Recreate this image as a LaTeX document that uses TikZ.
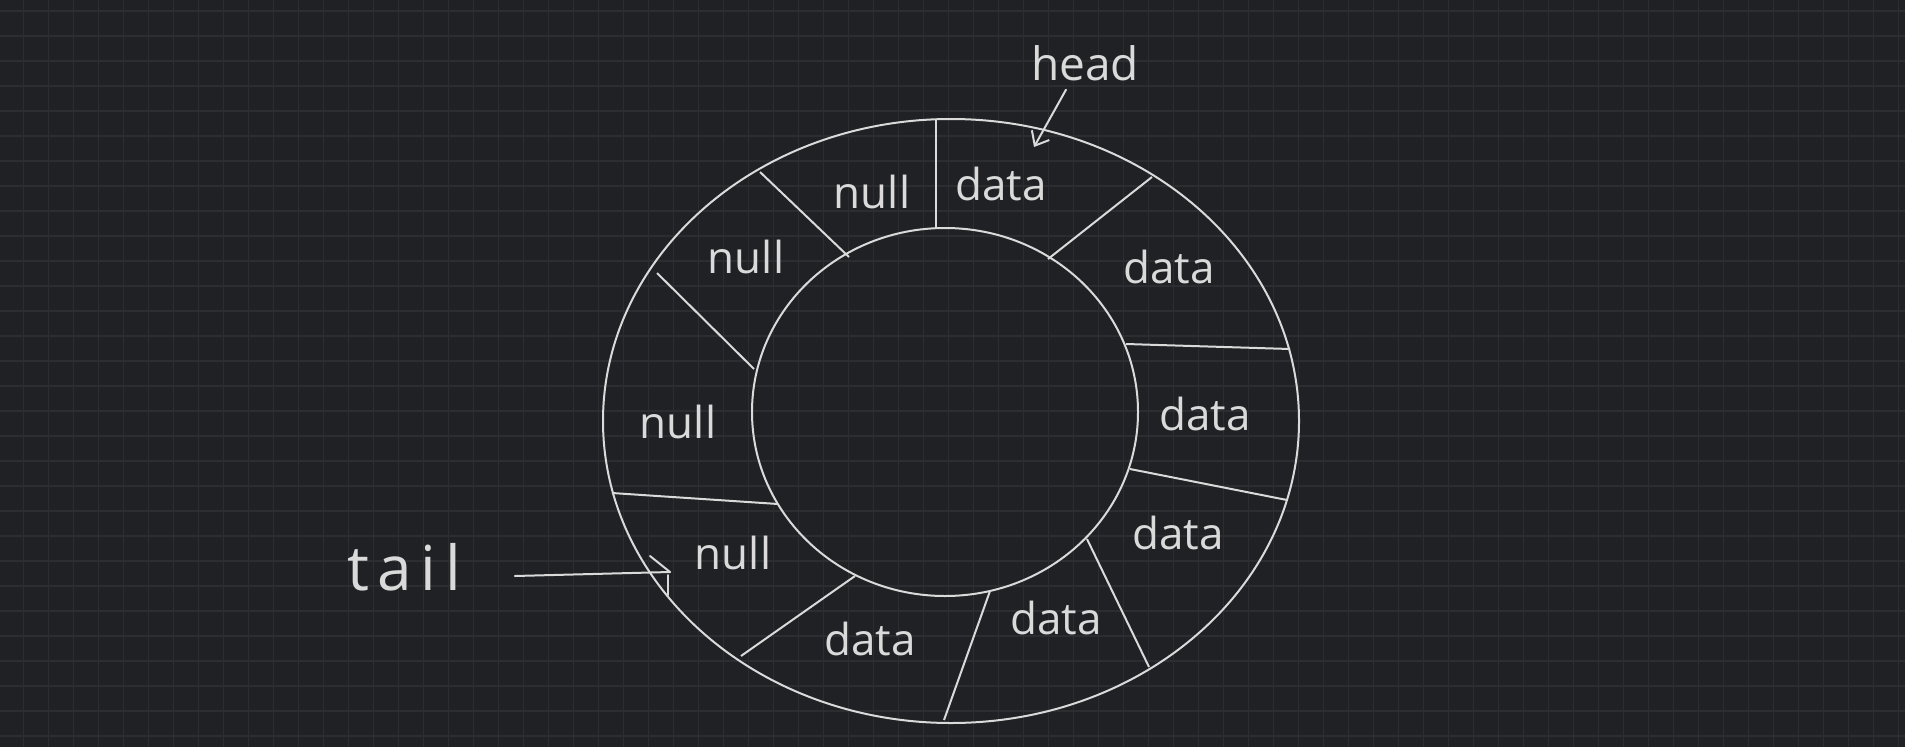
\documentclass[tikz,border=0pt]{standalone}
\usepackage{fontspec}
\setmainfont{Open Sans}
\newfontfamily\spaced[LetterSpace=14]{Open Sans}
\usetikzlibrary{arrows.meta}
\definecolor{bg}{HTML}{202125}
\definecolor{gridc}{HTML}{2B2D31}
\definecolor{ink}{HTML}{DADADA}
\begin{document}
\begin{tikzpicture}[x=1pt,y=-1pt,
  line width=2pt,
  ring/.style={draw=ink, line width=2pt},
  divider/.style={draw=ink, line width=2pt},
  cell/.style={font=\fontsize{44}{50}\selectfont, text=ink, inner sep=0pt},
  lbl/.style={font=\fontsize{46}{52}\selectfont, text=ink, inner sep=0pt},
  pointer/.style={draw=ink, line width=2pt, line cap=round}]
\useasboundingbox (0,0) rectangle (1905,747);
\fill[bg] (0,0) rectangle (1905,747);
\foreach \i in {0,...,75} \draw[gridc, line width=1.5pt] ({23.5+25*\i},0) -- ({23.5+25*\i},747);
\foreach \j in {0,...,29} \draw[gridc, line width=1.5pt] (0,{11+25*\j}) -- (1905,{11+25*\j});
% ring
\draw[ring] (951,421) ellipse [x radius=348, y radius=302];
\draw[ring] (945,412) ellipse [x radius=193, y radius=184];
% dividers
\draw[divider] (935.5,119) -- (935.5,228);
\draw[divider] (1152,177) -- (1048,259);
\draw[divider] (1126,344) -- (1290,349);
\draw[divider] (1130,469) -- (1287,500);
\draw[divider] (1087,539) -- (1149,667);
\draw[divider] (990,591) -- (944,720);
\draw[divider] (855,576) -- (741,656);
\draw[divider] (612,493) -- (778,504);
\draw[divider] (657,273) -- (754,369);
\draw[divider] (760,172) -- (849,257);
% cell texts
\node[cell] (c1) at (872,192) {null};
\node[cell] (c2) at (1001,184) {data};
\node[cell] (c3) at (1169,267) {data};
\node[cell] (c4) at (1205,414) {data};
\node[cell] (c5) at (1178,533) {data};
\node[cell] (c6) at (1056,618) {data};
\node[cell] (c7) at (870,639) {data};
\node[cell] (c8) at (733,553) {null};
\node[cell] (c9) at (678,422) {null};
\node[cell] (c10) at (746,257) {null};
% head pointer
\node[lbl] (head) at (1085,63) {head};
\coordinate (headtip) at (1034,147);
\draw[pointer, -{Straight Barb[length=12pt,width=20pt]}] ([xshift=-19pt,yshift=-8pt]head.south) -- (headtip);
% tail pointer
\node[lbl, font=\spaced\fontsize{62}{70}\selectfont] (tail) at (404,567) {tail};
\coordinate (tailtip) at (670,572);
\draw[pointer] ([xshift=53pt,yshift=-9pt]tail.east) -- (tailtip);
\draw[pointer] ([shift={(-20,-16)}]tailtip) -- (tailtip);
\draw[pointer] ([shift={(-2,3)}]tailtip) -- ++(0,20);
\end{tikzpicture}
\end{document}
